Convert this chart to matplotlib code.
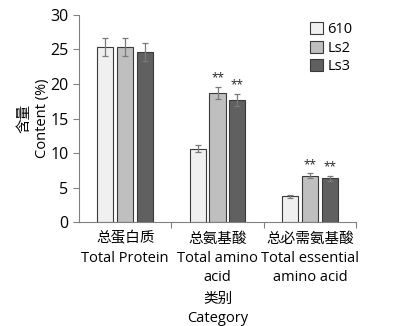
import matplotlib
matplotlib.use("Agg")
import matplotlib.pyplot as plt
import numpy as np

plt.rcParams["font.family"] = ["Open Sans", "Noto Sans CJK SC", "DejaVu Sans"]

categories = ["总蛋白质\nTotal Protein", "总氨基酸\nTotal amino\nacid", "总必需氨基酸\nTotal essential\namino acid"]
series = ["610", "Ls2", "Ls3"]
values = {
    "610": [25.4, 10.6, 3.7],
    "Ls2": [25.4, 18.7, 6.7],
    "Ls3": [24.7, 17.7, 6.35],
}
errors = {
    "610": [1.3, 0.5, 0.2],
    "Ls2": [1.3, 0.9, 0.35],
    "Ls3": [1.3, 0.9, 0.35],
}
# significance marks per series and category
marks = {
    "610": ["", "", ""],
    "Ls2": ["", "**", "**"],
    "Ls3": ["", "**", "**"],
}
colors = {"610": "#f0f0f0", "Ls2": "#bfbfbf", "Ls3": "#606060"}

fig = plt.figure(figsize=(4.01, 3.26), dpi=100)
ax = fig.add_axes([0.197, 0.319, 0.691, 0.635])

x = np.arange(len(categories))
width = 0.175
offsets = [-0.215, 0.0, 0.215]
for s, off in zip(series, offsets):
    ax.bar(x + off, values[s], width, color=colors[s], edgecolor="#3a3a3a",
           linewidth=0.8, label=s, zorder=2)
    ax.errorbar(x + off, values[s], yerr=errors[s], fmt="none", ecolor="#7a7a7a",
                elinewidth=0.9, capsize=2.5, capthick=0.9, zorder=3)
    for xi, v, e, m in zip(x + off, values[s], errors[s], marks[s]):
        if m:
            ax.text(xi, v + e + 0.3, m, ha="center", va="bottom", fontsize=8.5,
                    color="#222222")

ax.set_xlim(-0.5, 2.5)
ax.set_ylim(0, 30)
ax.set_yticks(range(0, 31, 5))
ax.set_xticks([0.5, 1.5, 2.5])
ax.set_xticklabels([])
ax.set_xticks(x, minor=True)
ax.set_xticklabels(categories, minor=True, fontsize=10.5, linespacing=1.38)
ax.tick_params(axis="x", which="minor", length=0, pad=7)
ax.tick_params(axis="x", which="major", length=4, direction="out", color="#808080")
ax.tick_params(axis="y", length=4, direction="out", color="#808080", labelsize=11.5)

for sp in ["top", "right"]:
    ax.spines[sp].set_visible(False)
for sp in ["left", "bottom"]:
    ax.spines[sp].set_color("#808080")

ax.set_ylabel("含量\nContent (%)", fontsize=10.5, linespacing=1.3, labelpad=0)
fig.text(0.543, 0.105, "类别\nCategory", ha="center", va="top", fontsize=10.5,
         linespacing=1.38)

leg = ax.legend(loc="upper right", bbox_to_anchor=(1.035, 1.03), frameon=False,
                fontsize=10.5, handlelength=0.9, handleheight=0.9,
                handletextpad=0.3, labelspacing=0.25)

fig.savefig("out.png", dpi=100)
